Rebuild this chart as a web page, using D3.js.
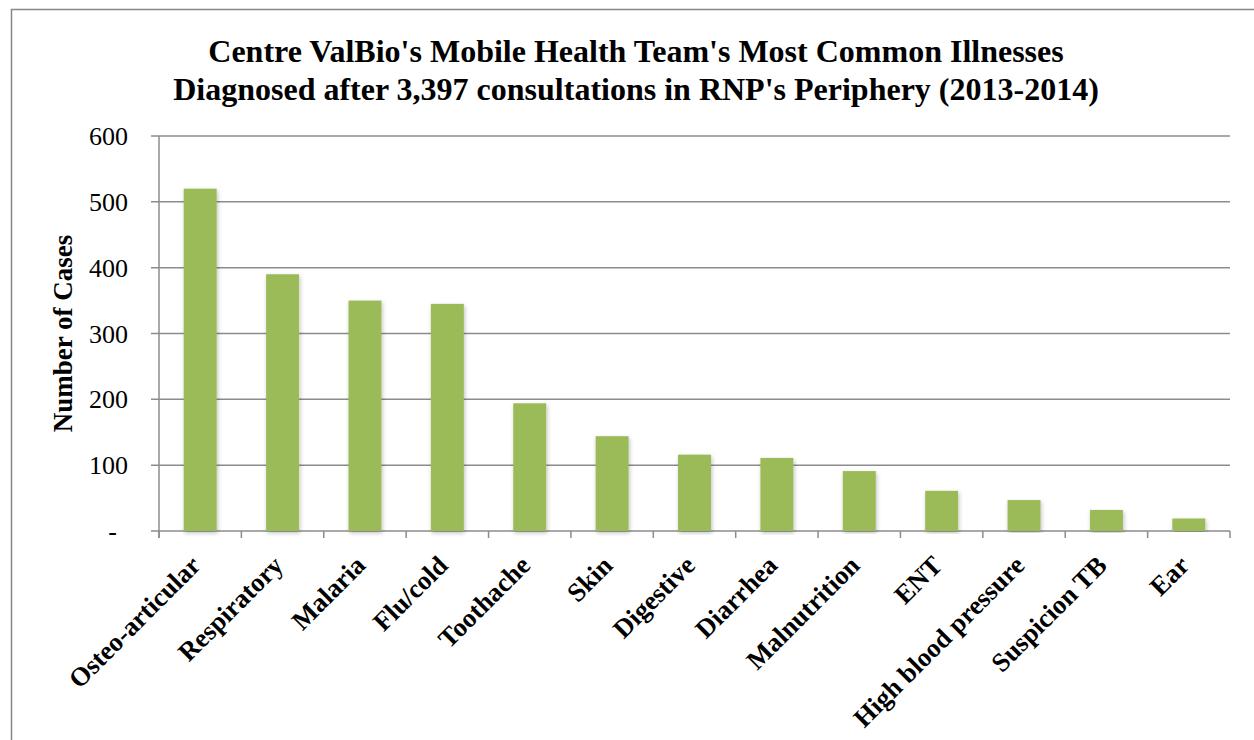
<!DOCTYPE html>
<html>
<head>
<meta charset="utf-8">
<script src="https://cdn.jsdelivr.net/npm/d3@7"></script>
<style>
  body { margin: 0; background: #fff; }
  text { font-family: "Liberation Serif", "Times New Roman", serif; fill: #000; }
</style>
</head>
<body>
<div id="chart"></div>
<script>
const categories = ["Osteo-articular", "Respiratory", "Malaria", "Flu/cold", "Toothache", "Skin",
  "Digestive", "Diarrhea", "Malnutrition", "ENT", "High blood pressure", "Suspicion TB", "Ear"];
const cases = [520, 390, 350, 345, 194, 144, 116, 111, 91, 61, 47, 32, 19];
const yTicks = [0, 100, 200, 300, 400, 500, 600];
const titleLines = ["Centre ValBio's Mobile Health Team's Most Common Illnesses",
  "Diagnosed after 3,397 consultations in RNP's Periphery (2013-2014)"];

const W = 1254, H = 740;
const margin = {top: 136, left: 159, right: 24, bottom: 209};
const width = W - margin.left - margin.right,
      height = H - margin.top - margin.bottom;

const svg = d3.select("#chart").append("svg")
  .attr("width", W).attr("height", H);

const defs = svg.append("defs");
const shadow = defs.append("filter").attr("id", "shadow")
  .attr("x", "-20%").attr("y", "-5%").attr("width", "140%").attr("height", "110%");
shadow.append("feDropShadow").attr("dx", 1).attr("dy", 2).attr("stdDeviation", 2)
  .attr("flood-color", "#000").attr("flood-opacity", 0.25);

// outer chart border
svg.append("rect")
  .attr("x", 11.5).attr("y", 9.5).attr("width", W + 20).attr("height", H + 20)
  .attr("fill", "none").attr("stroke", "#868686").attr("stroke-width", 1.5);

// title
svg.append("text")
  .attr("x", 636).attr("y", 62)
  .attr("text-anchor", "middle")
  .style("font-size", "32px").style("font-weight", "bold")
  .selectAll("tspan").data(titleLines).join("tspan")
  .attr("x", 636).attr("dy", (d, i) => i ? 38 : 0)
  .text(d => d);

const g = svg.append("g").attr("transform", `translate(${margin.left},${margin.top})`);

const x = d3.scaleBand().domain(categories).range([0, width]).padding(0);
const y = d3.scaleLinear().domain([0, 600]).range([height, 0]);

// gridlines
g.append("g").selectAll("line").data(yTicks).join("line")
  .attr("x1", -8).attr("x2", width)
  .attr("y1", d => y(d)).attr("y2", d => y(d))
  .attr("stroke", "#8c8c8c").attr("stroke-width", 1.5);

// y axis line
g.append("line").attr("x1", 0).attr("x2", 0).attr("y1", 0).attr("y2", height + 7)
  .attr("stroke", "#8c8c8c").attr("stroke-width", 1.5);

// x ticks at category boundaries
const bounds = categories.map(c => x(c)).concat([width]);
g.append("g").selectAll("line").data(bounds).join("line")
  .attr("x1", d => d).attr("x2", d => d)
  .attr("y1", height).attr("y2", height + 7)
  .attr("stroke", "#8c8c8c").attr("stroke-width", 1.5);

// bars
const bw = x.bandwidth() * 0.4;
g.append("g").selectAll("rect").data(cases).join("rect")
  .attr("x", (d, i) => x(categories[i]) + (x.bandwidth() - bw) / 2)
  .attr("width", bw)
  .attr("y", d => y(d))
  .attr("height", d => height - y(d))
  .attr("fill", "#9bbb59")
  .attr("filter", "url(#shadow)");

// y tick labels
g.append("g").selectAll("text").data(yTicks).join("text")
  .attr("x", d => d === 0 ? -42 : -31)
  .attr("y", d => y(d))
  .attr("dy", "0.35em")
  .attr("text-anchor", "end")
  .style("font-size", "26px")
  .text(d => d === 0 ? "-" : d);

// category labels
g.append("g").selectAll("text").data(categories).join("text")
  .attr("transform", d => `translate(${x(d) + x.bandwidth() / 2 + 2},${height + 36}) rotate(-45)`)
  .attr("text-anchor", "end")
  .style("font-size", "26.5px").style("font-weight", "bold")
  .text(d => d);

// y axis title
svg.append("text")
  .attr("transform", `translate(72,${margin.top + height / 2}) rotate(-90)`)
  .attr("text-anchor", "middle")
  .style("font-size", "27px").style("font-weight", "bold")
  .text("Number of Cases");
</script>
</body>
</html>
